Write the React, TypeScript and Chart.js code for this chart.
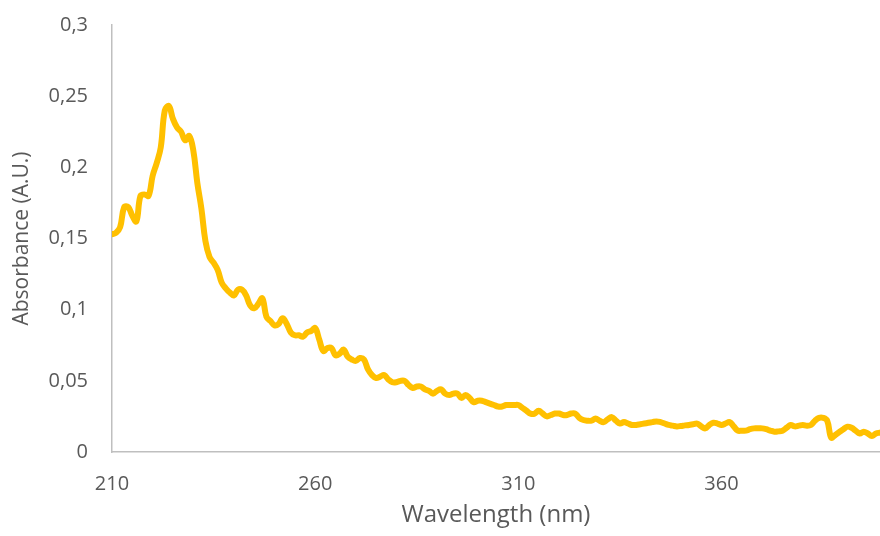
import React, { useEffect, useRef } from "react";
import { Chart, registerables } from "chart.js";

Chart.register(...registerables);

const START_NM = 210;
const X_MAX = 399;
const X_TICKS = [210, 260, 310, 360];
const Y_MAX = 0.3;
const Y_STEP = 0.05;
const X_TITLE = "Wavelength (nm)";
const Y_TITLE = "Absorbance (A.U.)";

// Absorbance at 1 nm steps from 210 nm to 399 nm
const ABSORBANCE = [
  0.153, 0.154, 0.158, 0.172, 0.172, 0.166, 0.162, 0.18, 0.181, 0.18,
  0.194, 0.203, 0.214, 0.24, 0.243, 0.234, 0.228, 0.225, 0.219, 0.222,
  0.212, 0.189, 0.171, 0.148, 0.137, 0.133, 0.128, 0.119, 0.115, 0.112,
  0.11, 0.114, 0.114, 0.11, 0.103, 0.101, 0.104, 0.108, 0.095, 0.092,
  0.089, 0.09, 0.094, 0.09, 0.084, 0.082, 0.082, 0.081, 0.084, 0.085,
  0.087, 0.079, 0.071, 0.073, 0.073, 0.068, 0.069, 0.072, 0.067, 0.065,
  0.064, 0.066, 0.065, 0.058, 0.054, 0.052, 0.053, 0.054, 0.051, 0.049,
  0.049, 0.05, 0.05, 0.047, 0.045, 0.046, 0.046, 0.044, 0.043, 0.041,
  0.043, 0.044, 0.041, 0.04, 0.041, 0.041, 0.038, 0.04, 0.038, 0.035,
  0.036, 0.036, 0.035, 0.034, 0.033, 0.032, 0.032, 0.033, 0.033, 0.033,
  0.033, 0.031, 0.029, 0.027, 0.027, 0.029, 0.027, 0.025, 0.026, 0.027,
  0.027, 0.026, 0.026, 0.027, 0.027, 0.024, 0.0225, 0.022, 0.022, 0.0235,
  0.022, 0.021, 0.023, 0.0245, 0.022, 0.02, 0.021, 0.02, 0.019, 0.019,
  0.0195, 0.02, 0.0205, 0.021, 0.0215, 0.021, 0.02, 0.019, 0.0185, 0.018,
  0.0183, 0.0187, 0.019, 0.0195, 0.02, 0.018, 0.0166, 0.019, 0.0205, 0.02,
  0.019, 0.02, 0.021, 0.018, 0.015, 0.015, 0.015, 0.016, 0.0166, 0.0166,
  0.0166, 0.016, 0.015, 0.0143, 0.0145, 0.015, 0.017, 0.019, 0.018, 0.0185,
  0.019, 0.0185, 0.019, 0.022, 0.024, 0.024, 0.022, 0.01, 0.012, 0.014,
  0.016, 0.0178, 0.017, 0.015, 0.013, 0.0143, 0.013, 0.0112, 0.013, 0.0136,
];

const WAVELENGTHS = ABSORBANCE.map((_, i) => START_NM + i);

const TEXT_COLOR = "#595959";
const AXIS_COLOR = "#bfbfbf";
const LINE_COLOR = "#FFC000";
const FONT = "'Open Sans', 'DejaVu Sans', sans-serif";

export default function App() {
  const canvasRef = useRef<HTMLCanvasElement | null>(null);

  useEffect(() => {
    const canvas = canvasRef.current;
    if (!canvas) return;
    const chart = new Chart(canvas, {
      type: "line",
      data: {
        datasets: [
          {
            data: WAVELENGTHS.map((x, i) => ({ x, y: ABSORBANCE[i] })),
            borderColor: LINE_COLOR,
            backgroundColor: LINE_COLOR,
            borderWidth: 6,
            pointRadius: 0,
            tension: 0.4,
            borderCapStyle: "round",
            borderJoinStyle: "round",
            fill: false,
          },
        ],
      },
      options: {
        responsive: false,
        animation: false,
        layout: { padding: { top: 25, right: 0, bottom: 0, left: 0 } },
        plugins: {
          legend: { display: false },
          tooltip: { enabled: false },
        },
        scales: {
          x: {
            type: "linear",
            min: START_NM,
            max: X_MAX,
            afterBuildTicks: (scale: any) => {
              scale.ticks = X_TICKS.map((v) => ({ value: v }));
            },
            afterFit: (scale: any) => {
              scale.height = 84;
              scale.paddingLeft = 0;
              scale.paddingRight = 0;
            },
            grid: { display: true, color: "rgba(0,0,0,0)", drawTicks: false },
            border: { display: true, color: AXIS_COLOR, width: 1.5 },
            ticks: {
              color: TEXT_COLOR,
              font: { family: FONT, size: 20 },
              padding: 20,
              maxRotation: 0,
              autoSkip: false,
              callback: (v: any) => String(v),
            },
            title: {
              display: true,
              text: X_TITLE,
              color: TEXT_COLOR,
              font: { family: FONT, size: 24 },
              padding: { top: 0, bottom: 6 },
            },
          },
          y: {
            type: "linear",
            min: 0,
            max: Y_MAX,
            afterFit: (scale: any) => {
              scale.width = 112;
              scale.paddingTop = 12;
              scale.paddingBottom = 0;
            },
            grid: { display: true, color: "rgba(0,0,0,0)", drawTicks: false },
            border: { display: true, color: AXIS_COLOR, width: 1.5 },
            ticks: {
              stepSize: Y_STEP,
              color: TEXT_COLOR,
              font: { family: FONT, size: 20 },
              padding: 24,
              callback: (v: any) =>
                String(Math.round(Number(v) * 100) / 100).replace(".", ","),
            },
            title: {
              display: true,
              text: Y_TITLE,
              color: TEXT_COLOR,
              font: { family: FONT, size: 21 },
              padding: { top: 9, bottom: 0 },
            },
          },
        },
      },
    });
    return () => chart.destroy();
  }, []);

  return (
    <div style={{ position: "absolute", left: 0, top: 0, width: 880, height: 536, background: "#fff" }}>
      <canvas ref={canvasRef} width={880} height={536} />
    </div>
  );
}
